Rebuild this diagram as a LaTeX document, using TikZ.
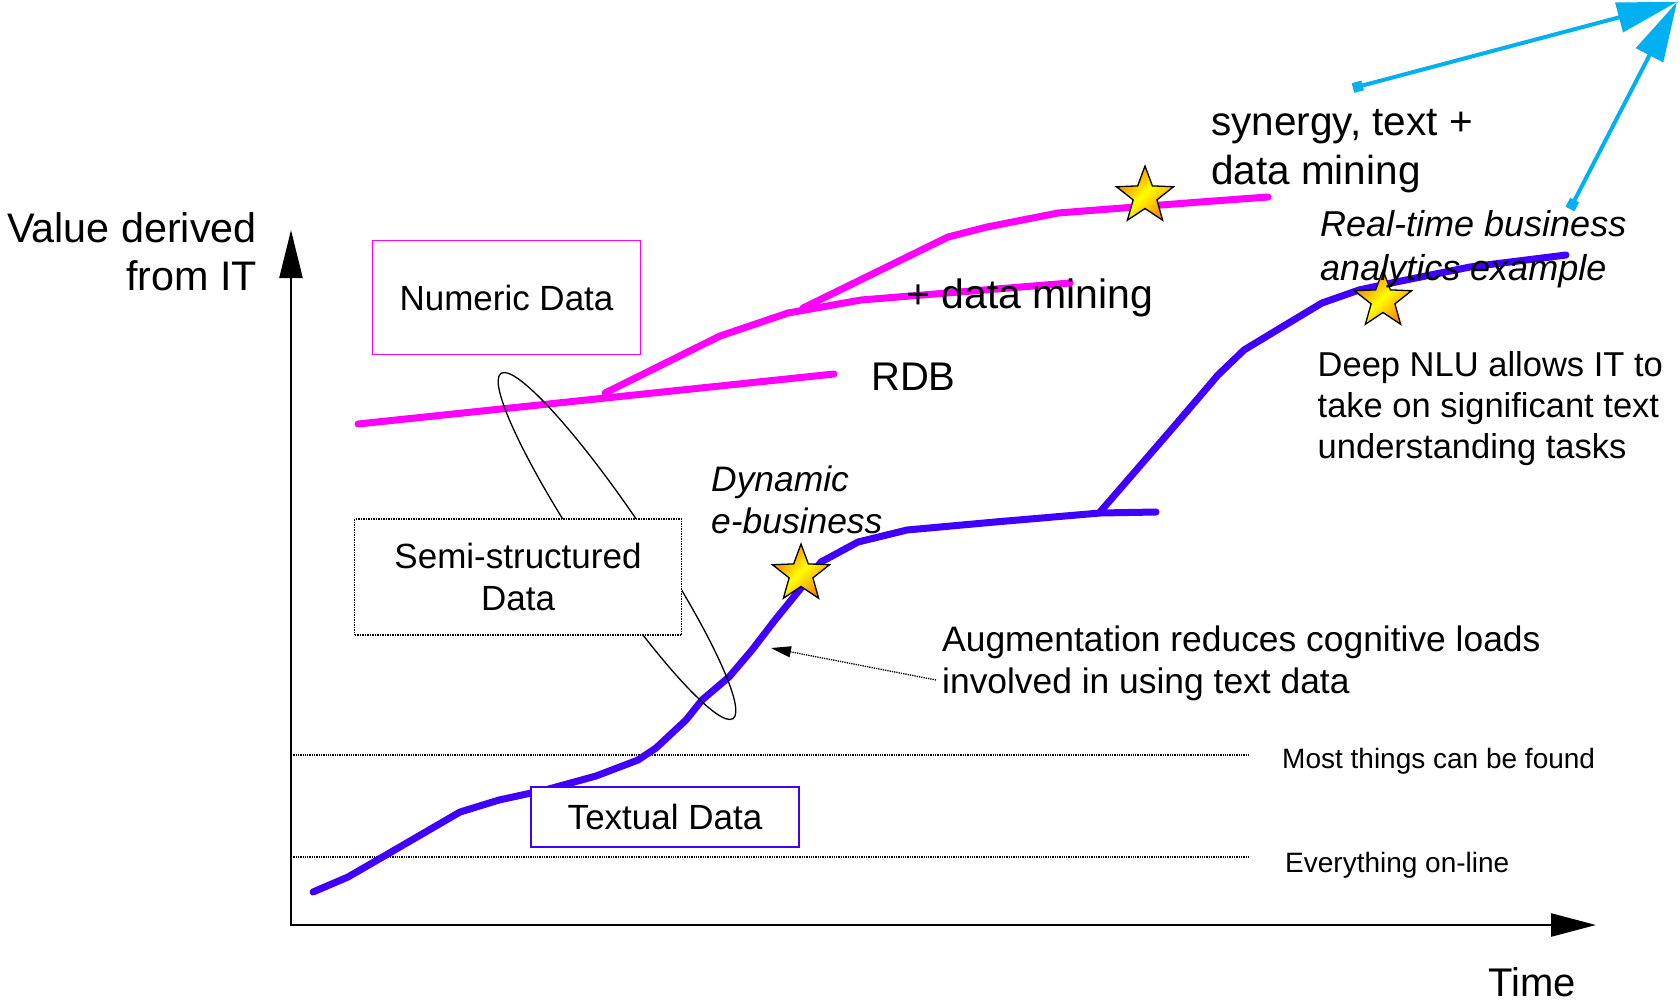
\documentclass[tikz,border=0pt]{standalone}
\usepackage{fontspec}
\setmainfont{Liberation Sans}
\usetikzlibrary{arrows.meta,shapes.geometric}
\definecolor{textblue}{RGB}{64,0,255}
\definecolor{numpink}{RGB}{255,0,255}
\definecolor{linkcyan}{RGB}{0,176,240}

\begin{document}
\begin{tikzpicture}[x=1pt,y=-1pt,
    lbl/.style={inner sep=0pt, anchor=base west, align=left, font=\fontsize{35.4}{41.7}\selectfont},
    biglbl/.style={inner sep=0pt, anchor=base west, align=left, font=\fontsize{40}{48}\selectfont},
    smalllbl/.style={inner sep=0pt, anchor=base west, font=\fontsize{28}{33}\selectfont},
    trend/.style={line width=7pt, line cap=round, line join=round},
    level/.style={line width=1.3pt, densely dotted},
    datatype/.style={draw, line width=1.5pt, fill=white, inner sep=0pt, align=center, font=\fontsize{35}{41.7}\selectfont},
    starmark/.style={star, star points=5, star point ratio=2.4, minimum size=60pt, inner sep=0pt, draw=black, line width=1.3pt, left color=orange!90!red, right color=orange, middle color=yellow, shading angle=45}]
    \useasboundingbox[fill=white] (0,0) rectangle (1680,1004);

    % levels reached
    \draw[level] (291,755) -- (1250,755);
    \draw[level] (291,857) -- (1250,857);

    % textual data trend
    \draw[trend, textblue] (313,892) -- (348,877) -- (386,855) -- (460,812) -- (499,800) -- (545,790) -- (596,776) -- (638,760) -- (656,748) -- (686,720) -- (702,700) -- (729,677) -- (752,650) -- (775,620) -- (797,593) -- (821,562) -- (858,542) -- (907,530) -- (995,522) -- (1100,513) -- (1156,512);
    \draw[trend, textblue] (1100,512) -- (1171,430) -- (1218,375) -- (1244,350) -- (1282,327) -- (1322,303) -- (1359,290) -- (1396,282) -- (1470,267) -- (1566,255);

    % numeric data trend
    \draw[trend, numpink] (358,424) -- (834,374);
    \draw[trend, numpink] (605,393) -- (720,336) -- (788,313) -- (861,300) -- (1070,283);
    \draw[trend, numpink] (803,308) -- (948,237) -- (987,227) -- (1058,213) -- (1200,202) -- (1268,197);

    % axes
    \coordinate (o) at (291,925);
    \coordinate (ytop) at (291,230);
    \coordinate (xend) at (1596,925);
    \draw[line width=2.5pt, {Triangle[length=48pt,width=23pt]}-{Triangle[length=45pt,width=23pt]}] (ytop) -- (o) -- (xend);

    \node[draw, ellipse, line width=1.3pt, minimum width=416, minimum height=62, inner sep=0pt, rotate=-56.1] (semigrp) at (617,546) {};

    \node[datatype, draw=numpink, minimum width=268, minimum height=114] (numeric) at (506.5,297.5) {Numeric Data};
    \node[datatype, draw=black, densely dotted, line width=1.3pt, minimum width=327, minimum height=116] (semi) at (518,577) {Semi-structured\\Data};
    \node[datatype, draw=textblue, minimum width=268, minimum height=60] (textual) at (665,817) {Textual Data};

    \node[starmark] (dynstar) at (801,574) {};
    \node[starmark] (synstar) at (1145,196) {};
    \node[starmark] (rtstar) at (1383,300) {};

    \node[biglbl, anchor=base east, align=right, font=\fontsize{41.3}{47.3}\selectfont] (valuelbl) at (257,290) {Value derived\\from IT};
    \node[biglbl] (timelbl) at (1488,996) {Time};
    \node[biglbl] (rdblbl) at (871,390) {RDB};
    \node[biglbl, font=\fontsize{41}{48}\selectfont] (minelbl) at (906,308) {+ data mining};
    \node[biglbl, font=\fontsize{40.5}{49}\selectfont] (synlbl) at (1211,184) {synergy, text +\\data mining};
    \node[lbl, font=\fontsize{36}{43.3}\selectfont\itshape] (rtlbl) at (1320,280) {Real-time business\\analytics example};
    \node[lbl, font=\fontsize{34.5}{40.8}\selectfont] (nlulbl) at (1317.5,458) {Deep NLU allows IT to\\take on significant text\\understanding tasks};
    \node[lbl, font=\fontsize{35.4}{41.7}\selectfont\itshape] (dynlbl) at (711,533) {Dynamic\\e-business};
    \node[lbl] (auglbl) at (942,693) {Augmentation reduces cognitive loads\\involved in using text data};
    \node[smalllbl] (foundlbl) at (1282,768) {Most things can be found};
    \node[smalllbl] (onlinelbl) at (1285,872) {Everything on-line};

    \coordinate (augtip) at (771,648);
    \draw[line width=1.3pt, densely dotted, -{Triangle[length=20pt,width=11pt]}] ([xshift=-6pt,yshift=-17pt]auglbl.west) -- (augtip);

    % links to the peak
    \coordinate (peak) at (1677,2);
    \coordinate (synfrom) at (1353,88);
    \coordinate (rtfrom) at (1570,209);
    \draw[linkcyan, line width=4pt, {Square[length=10pt,width=10pt]}-{Triangle[length=60pt,width=30pt]}] (synfrom) -- (peak);
    \draw[linkcyan, line width=4pt, {Square[length=10pt,width=10pt]}-{Triangle[length=60pt,width=30pt]}] (rtfrom) -- (peak);
\end{tikzpicture}
\end{document}
